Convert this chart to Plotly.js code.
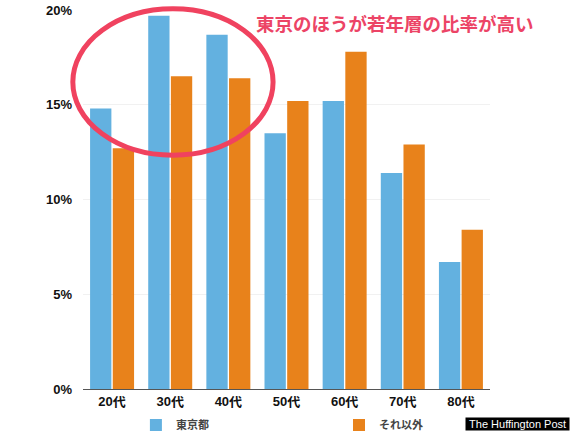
<!DOCTYPE html>
<html>
<head>
<meta charset="utf-8">
<script src="https://cdn.plot.ly/plotly-3.0.1.min.js"></script>
<style>
  html, body { margin: 0; padding: 0; background: #fff; }
  #chart { width: 570px; height: 431px; }
</style>
</head>
<body>
<div id="chart"></div>
<script>
// 年代別の人口構成比（%）
const ageGroups = ["20代", "30代", "40代", "50代", "60代", "70代", "80代"];
const tokyoShare = [14.8, 19.7, 18.7, 13.5, 15.2, 11.4, 6.7];
const otherShare = [12.7, 16.5, 16.4, 15.2, 17.8, 12.9, 8.4];
const seriesNames = ["東京都", "それ以外"];
const yTickVals = [0, 5, 10, 15, 20];
const yTickText = ["0%", "5%", "10%", "15%", "20%"];

const labelFont = {
  family: "'Liberation Sans', 'Noto Sans CJK JP', sans-serif",
  size: 13,
  color: "#111",
  weight: 700,
};

const legendFont = {
  family: "'Noto Sans CJK JP', sans-serif",
  size: 11,
  color: "#444",
  weight: 700,
};

const data = [
  {
    type: "bar",
    name: seriesNames[0],
    x: ageGroups,
    y: tokyoShare,
    marker: { color: "#63B1E0" },
    legend: "legend",
    hoverinfo: "y",
  },
  {
    type: "bar",
    name: seriesNames[1],
    x: ageGroups,
    y: otherShare,
    marker: { color: "#E8821B" },
    legend: "legend2",
    hoverinfo: "y",
  },
];

const layout = {
  width: 570,
  height: 431,
  margin: { l: 83, r: 80, t: 10, b: 42, autoexpand: false },
  paper_bgcolor: "#fff",
  plot_bgcolor: "#fff",
  barmode: "group",
  bargap: 0.22,
  bargroupgap: 0.06,
  showlegend: true,
  legend: {
    x: 0.13,
    y: -0.095,
    xanchor: "left",
    yanchor: "middle",
    font: legendFont,
  },
  legend2: {
    x: 0.629,
    y: -0.095,
    xanchor: "left",
    yanchor: "middle",
    font: legendFont,
  },
  xaxis: {
    type: "category",
    showgrid: false,
    showline: true,
    linecolor: "#555",
    linewidth: 1,
    ticks: "",
    tickfont: labelFont,
    fixedrange: true,
  },
  yaxis: {
    range: [0, 20],
    tickvals: yTickVals,
    ticktext: yTickText,
    showgrid: true,
    gridcolor: "#f1f1f1",
    zeroline: false,
    showline: false,
    ticks: "",
    ticklabelstandoff: 10,
    tickfont: labelFont,
    fixedrange: true,
  },
  shapes: [
    {
      type: "circle",
      xref: "paper",
      yref: "paper",
      x0: -0.025,
      x1: 0.467,
      y0: 0.617,
      y1: 1.003,
      line: { color: "#F0425F", width: 5 },
    },
  ],
  annotations: [
    {
      xref: "paper",
      yref: "paper",
      x: 0.42,
      y: 0.967,
      xanchor: "left",
      yanchor: "middle",
      text: "東京のほうが若年層の比率が高い",
      showarrow: false,
      font: {
        family: "'Noto Sans CJK JP', sans-serif",
        size: 18.5,
        color: "#EC4466",
        weight: 700,
      },
    },
    {
      xref: "paper",
      yref: "paper",
      x: 1.1966,
      y: -0.1108,
      xanchor: "right",
      yanchor: "bottom",
      text: "\u00a0The Huffington Post\u00a0",
      showarrow: false,
      bgcolor: "#000",
      borderpad: 0,
      font: {
        family: "'Liberation Sans', sans-serif",
        size: 11,
        color: "#fff",
      },
    },
  ],
};

const config = { displayModeBar: false, staticPlot: true };

Plotly.newPlot("chart", data, layout, config);
</script>
</body>
</html>
